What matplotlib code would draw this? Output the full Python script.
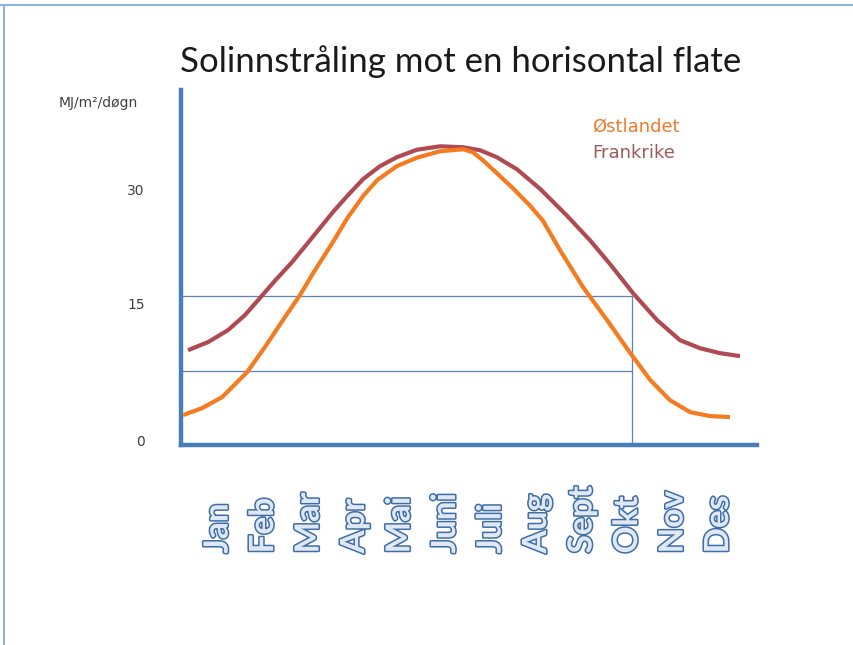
import matplotlib
matplotlib.use("Agg")
import matplotlib.pyplot as plt
import matplotlib.patheffects as pe
from matplotlib.lines import Line2D
from matplotlib.transforms import blended_transform_factory

# ----------------- Data -----------------
months = ["Jan", "Feb", "Mar", "Apr", "Mai", "Juni", "Juli", "Aug", "Sept", "Okt", "Nov", "Des"]

# x in month index (Jan = 0), y in MJ/m2/døgn
frankrike_x = [-0.66, -0.22, 0.22, 0.59, 0.88, 1.25, 1.63, 1.98, 2.53, 2.84, 3.19,
               3.56, 3.93, 4.37, 4.88, 5.39, 5.76, 6.13, 6.57, 7.08, 7.67, 8.18,
               8.62, 9.12, 9.65, 10.15, 10.59, 11.03, 11.47]
frankrike_y = [9.56, 10.37, 11.58, 13.09, 14.60, 16.55, 18.45, 20.40, 23.50, 25.10, 26.80,
               28.10, 29.00, 29.75, 30.10, 30.00, 29.70, 28.99, 27.78, 25.80, 23.10, 20.60,
               18.20, 15.30, 12.58, 10.57, 9.76, 9.26, 8.96]

ostlandet_x = [-0.77, -0.35, 0.09, 0.64, 1.03, 1.47, 1.80, 2.13, 2.51, 2.84, 3.19,
               3.50, 3.93, 4.37, 4.88, 5.39, 5.60, 5.82, 6.13, 6.48, 6.86, 7.14,
               7.52, 8.02, 8.55, 9.06, 9.50, 9.93, 10.37, 10.81, 11.25]
ostlandet_y = [3.02, 3.72, 4.83, 7.35, 9.87, 12.89, 15.10, 17.62, 20.34, 22.85, 25.10,
               26.70, 28.10, 28.95, 29.60, 29.80, 29.50, 28.69, 27.38, 25.87, 24.10, 22.60,
               19.60, 15.91, 12.58, 9.26, 6.54, 4.53, 3.32, 2.92, 2.82]

# guide lines
guide_levels = [15, 7.5]
guide_x = 9.1

ytick_pos = [0.5, 14.3, 25.7]
ytick_labels = ["0", "15", "30"]

# ----------------- Figure -----------------
fig = plt.figure(figsize=(8.54, 6.45), dpi=100)
ax = fig.add_axes([0.212, 0.310, 0.6745, 0.550])

axis_blue = "#4a7ebb"
guide_blue = "#5b84b8"

ax.plot(frankrike_x, frankrike_y, color="#b04a52", lw=3, solid_capstyle="butt",
        solid_joinstyle="round", zorder=3)
ax.plot(ostlandet_x, ostlandet_y, color="#f47b20", lw=3, solid_capstyle="butt",
        solid_joinstyle="round", zorder=4)

for lvl in guide_levels:
    ax.plot([-0.9, guide_x], [lvl, lvl], color=guide_blue, lw=0.9, zorder=2)
ax.plot([guide_x, guide_x], [0, guide_levels[0]], color=guide_blue, lw=0.9, zorder=2)

ax.set_xlim(-0.813, 11.846)
ax.set_ylim(0, 35.74)

for s in ["top", "right"]:
    ax.spines[s].set_visible(False)
for s in ["left", "bottom"]:
    ax.spines[s].set_color(axis_blue)
    ax.spines[s].set_linewidth(3.2)

ax.set_xticks([])
ax.set_yticks(ytick_pos)
ax.set_yticklabels(ytick_labels, fontsize=10, color="#404040")
ax.tick_params(axis="y", length=0, pad=26)

# month labels, rotated, starting at a common baseline
trans = blended_transform_factory(ax.transData, fig.transFigure)
for i, m in enumerate(months):
    ax.text(i, 0.142, m, transform=trans, rotation=90, rotation_mode="anchor",
            ha="left", va="center", fontsize=24, fontweight="bold",
            family="Lato", color="#dfe8f4",
            path_effects=[pe.withStroke(linewidth=2.2, foreground="#3e6da8")])

# unit label
fig.text(98 / 854, 1 - 103 / 645, "MJ/m²/døgn", ha="center", va="center",
         fontsize=10, color="#404040")

# title
fig.text(461 / 854, 1 - 62 / 645, "Solinnstråling mot en horisontal flate",
         ha="center", va="center", fontsize=25, family="Lato", color="#1a1a1a")

# series names
fig.text(592 / 854, 1 - 127 / 645, "Østlandet", ha="left", va="center",
         fontsize=13, color="#f07a2c")
fig.text(592 / 854, 1 - 153 / 645, "Frankrike", ha="left", va="center",
         fontsize=13, color="#9c5a5a")

# thin frame at top and left
fig.add_artist(Line2D([0, 1], [1 - 5 / 645, 1 - 5 / 645], color="#8db3e2", lw=1.5))
fig.add_artist(Line2D([4 / 854, 4 / 854], [0, 1 - 5 / 645], color="#8db3e2", lw=1.5))

fig.savefig("out.png", dpi=100)
